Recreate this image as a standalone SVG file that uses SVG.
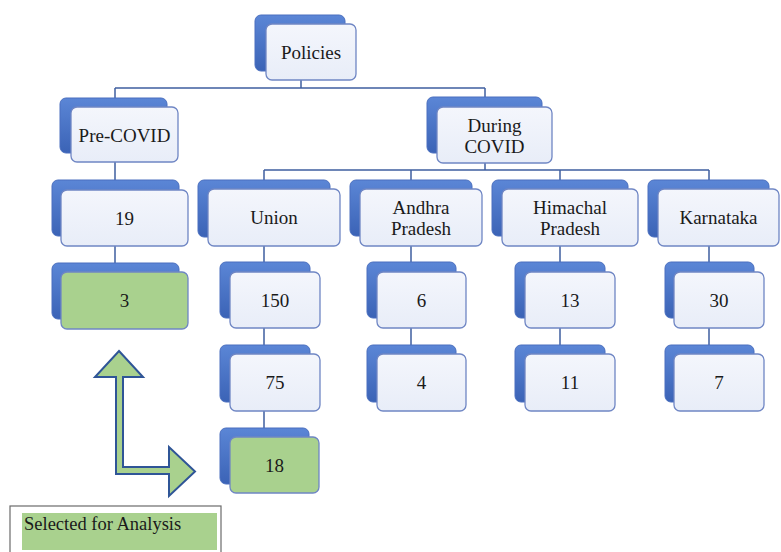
<svg xmlns="http://www.w3.org/2000/svg" width="781" height="552" viewBox="0 0 781 552">
<defs>
<linearGradient id="backG" x1="0" y1="0" x2="0" y2="1">
<stop offset="0" stop-color="#5b86d6"/>
<stop offset="1" stop-color="#3b63b6"/>
</linearGradient>
<linearGradient id="frontG" x1="0" y1="0" x2="0" y2="1">
<stop offset="0" stop-color="#f4f6fc"/>
<stop offset="1" stop-color="#e8edf8"/>
</linearGradient>
<style>
.back{fill:url(#backG);stroke:#4a6fbf;stroke-width:1}
.front{fill:url(#frontG);stroke:#6f86c4;stroke-width:1.3}
.green{fill:#a9d18e;stroke:#6f86c4;stroke-width:1.3}
.t{font-family:"Liberation Serif","Times New Roman",serif;font-size:19px;fill:#1a1a1a;text-anchor:middle}
.lt{font-family:"Liberation Serif","Times New Roman",serif;font-size:18.5px;fill:#1a1a1a}
.c{stroke:#3f5fa0;stroke-width:1.5;fill:none}
</style>
</defs>
<rect width="781" height="552" fill="#ffffff"/>
<g id="connectors">
<path class="c" d="M301 80V88M115 88H485M115 88V98M485 88V97"/>
<path class="c" d="M115 162V180M115 246V263"/>
<path class="c" d="M485 163V170M264 170H709M264 170V180M411 170V180M560 170V180M709 170V180"/>
<path class="c" d="M264 246V262M264 328V345M264 411V428"/>
<path class="c" d="M411 246V262M411 328V345"/>
<path class="c" d="M560 246V262M560 328V345"/>
<path class="c" d="M709 246V262M709 328V345"/>
</g>
<g id="policies"><rect class="back" x="255" y="15" width="90" height="56" rx="6"/><rect class="front" x="266" y="24" width="90" height="56" rx="6"/><text class="t" x="311" y="58.5">Policies</text></g>
<g id="pre-covid"><rect class="back" x="60" y="98" width="107" height="55" rx="6"/><rect class="front" x="71" y="107" width="107" height="55" rx="6"/><text class="t" x="124.5" y="141.5">Pre-COVID</text></g>
<g id="during-covid"><rect class="back" x="427" y="97" width="115" height="56" rx="6"/><rect class="front" x="437" y="107" width="115" height="56" rx="6"/><text class="t" x="494.5" y="131.5">During</text><text class="t" x="494.5" y="152.5">COVID</text></g>
<g id="pre-19"><rect class="back" x="52" y="180" width="127" height="56" rx="6"/><rect class="front" x="61" y="190" width="127" height="56" rx="6"/><text class="t" x="124.5" y="224.5">19</text></g>
<g id="pre-3"><rect class="back" x="52" y="263" width="127" height="56" rx="6"/><rect class="green" x="61" y="272" width="127" height="57" rx="6"/><text class="t" x="124.5" y="307">3</text></g>
<g id="union"><rect class="back" x="198" y="180" width="132" height="57" rx="6"/><rect class="front" x="208" y="189" width="132" height="57" rx="6"/><text class="t" x="274" y="224">Union</text></g>
<g id="andhra"><rect class="back" x="350" y="180" width="122" height="56" rx="6"/><rect class="front" x="360" y="189" width="122" height="57" rx="6"/><text class="t" x="421" y="214">Andhra</text><text class="t" x="421" y="234.5">Pradesh</text></g>
<g id="himachal"><rect class="back" x="492" y="180" width="136" height="56" rx="6"/><rect class="front" x="502" y="189" width="136" height="57" rx="6"/><text class="t" x="570" y="214">Himachal</text><text class="t" x="570" y="234.5">Pradesh</text></g>
<g id="karnataka"><rect class="back" x="648" y="180" width="121" height="57" rx="6"/><rect class="front" x="658" y="189" width="121" height="57" rx="6"/><text class="t" x="718.5" y="224">Karnataka</text></g>
<g id="union-150"><rect class="back" x="220" y="262" width="90" height="56" rx="6"/><rect class="front" x="230" y="272" width="90" height="56" rx="6"/><text class="t" x="275" y="306.5">150</text></g>
<g id="union-75"><rect class="back" x="220" y="345" width="90" height="57" rx="6"/><rect class="front" x="230" y="354" width="90" height="57" rx="6"/><text class="t" x="275" y="389">75</text></g>
<g id="union-18"><rect class="back" x="220" y="428" width="89" height="56" rx="6"/><rect class="green" x="230" y="437" width="89" height="56" rx="6"/><text class="t" x="274.5" y="471.5">18</text></g>
<g id="andhra-6"><rect class="back" x="367" y="262" width="89" height="56" rx="6"/><rect class="front" x="377" y="272" width="89" height="56" rx="6"/><text class="t" x="421.5" y="306.5">6</text></g>
<g id="andhra-4"><rect class="back" x="367" y="345" width="89" height="57" rx="6"/><rect class="front" x="377" y="354" width="89" height="57" rx="6"/><text class="t" x="421.5" y="389">4</text></g>
<g id="himachal-13"><rect class="back" x="515" y="262" width="90" height="56" rx="6"/><rect class="front" x="525" y="272" width="90" height="56" rx="6"/><text class="t" x="570" y="306.5">13</text></g>
<g id="himachal-11"><rect class="back" x="515" y="345" width="90" height="57" rx="6"/><rect class="front" x="525" y="354" width="90" height="57" rx="6"/><text class="t" x="570" y="389">11</text></g>
<g id="karnataka-30"><rect class="back" x="665" y="262" width="89" height="56" rx="6"/><rect class="front" x="674" y="272" width="90" height="56" rx="6"/><text class="t" x="719" y="306.5">30</text></g>
<g id="karnataka-7"><rect class="back" x="665" y="345" width="89" height="57" rx="6"/><rect class="front" x="674" y="354" width="90" height="57" rx="6"/><text class="t" x="719" y="389">7</text></g>
<g id="selection-arrow"><polygon points="119,351 143,377 123,377 123,467 169,467 169,447 195,471.5 169,496 169,474 116,474 116,377 95,377" fill="#a9d18e" stroke="#2f5597" stroke-width="2" stroke-linejoin="miter"/></g>
<g id="legend"><rect x="10" y="506" width="211" height="60" fill="#ffffff" stroke="#6b6b6b" stroke-width="1.2"/><rect x="22" y="513" width="195" height="37" fill="#a9d18e"/><text class="lt" x="24" y="530">Selected for Analysis</text></g>
</svg>
